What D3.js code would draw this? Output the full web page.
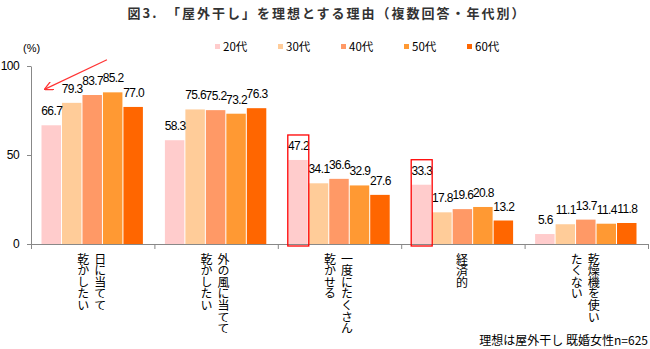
<!DOCTYPE html>
<html>
<head>
<meta charset="utf-8">
<script src="https://cdn.jsdelivr.net/npm/d3@7"></script>
<style>
  body { margin: 0; background: #fff; }
  svg { display: block; }
  .jp { font-family: "Noto Sans CJK JP", sans-serif; }
  .num { font-family: "Liberation Sans", Arial, sans-serif; }
</style>
</head>
<body>
<div id="chart"></div>
<script>
// Reasons (each label split into its vertical columns, right column first)
const categories = ['日に当てて乾かしたい', '外の風に当てて乾かしたい', '一度にたくさん乾かせる', '経済的', '乾燥機を使いたくない'];
const categoryLines = [
  ['日に当てて', '乾かしたい'],
  ['外の風に当てて', '乾かしたい'],
  ['一度にたくさん', '乾かせる'],
  ['経済的'],
  ['乾燥機を使い', 'たくない']
];
const ageGroups = ['20代', '30代', '40代', '50代', '60代'];
const colors = ['#FFCCCC', '#FFCC99', '#FF9966', '#FF9933', '#FF6600'];

// Percentages per age group, in category order
const values20 = [66.7, 58.3, 47.2, 33.3, 5.6];
const values30 = [79.3, 75.6, 34.1, 17.8, 11.1];
const values40 = [83.7, 75.2, 36.6, 19.6, 13.7];
const values50 = [85.2, 73.2, 32.9, 20.8, 11.4];
const values60 = [77.0, 76.3, 27.6, 13.2, 11.8];
const seriesValues = [values20, values30, values40, values50, values60];

const yTicks = [0, 50, 100];

// Bars outlined in red: [category index, age group index]
const highlights = [[2, 0], [3, 0]];

const width = 650;
const height = 349;

const svg = d3.select('#chart')
  .append('svg')
    .attr('width', width)
    .attr('height', height);

// Title
svg.append('text')
  .attr('class', 'jp')
  .attr('x', 327)
  .attr('y', 18)
  .attr('text-anchor', 'middle')
  .attr('font-size', 13)
  .attr('font-weight', 700)
  .attr('letter-spacing', 2)
  .attr('fill', '#333')
  .text('図3.　「屋外干し」を理想とする理由（複数回答・年代別）');

// Scales
const x0 = d3.scaleBand()
  .domain(categories)
  .range([31, 648]);

const x1 = d3.scaleBand()
  .domain(ageGroups)
  .range([10.5, x0.bandwidth() - 10.5]);

const y = d3.scaleLinear()
  .domain([0, 100])
  .range([244, 66]);

// Y axis
const yAxis = svg.append('g')
  .attr('transform', 'translate(31,0)')
  .call(d3.axisLeft(y).tickValues(yTicks).tickSize(4).tickSizeOuter(0).tickPadding(8));
yAxis.select('.domain').attr('stroke', '#888');
yAxis.selectAll('.tick line').attr('stroke', '#888');
yAxis.selectAll('.tick text')
  .attr('class', 'num')
  .attr('font-size', 12)
  .attr('letter-spacing', -0.6)
  .attr('fill', '#000');

svg.append('text')
  .attr('class', 'num')
  .attr('x', 23)
  .attr('y', 52)
  .attr('font-size', 11)
  .attr('fill', '#000')
  .text('(%)');

// Bars
const groups = svg.append('g')
  .selectAll('g')
  .data(categories)
  .join('g')
    .attr('transform', d => 'translate(' + x0(d) + ',0)');

groups.selectAll('rect')
  .data((d, i) => ageGroups.map((a, j) => ({ age: a, color: colors[j], value: seriesValues[j][i] })))
  .join('rect')
    .attr('x', d => x1(d.age))
    .attr('y', d => y(d.value))
    .attr('width', x1.bandwidth() - 1)
    .attr('height', d => y(0) - y(d.value))
    .attr('fill', d => d.color);

// Value labels
groups.selectAll('text')
  .data((d, i) => ageGroups.map((a, j) => ({ age: a, value: seriesValues[j][i] })))
  .join('text')
    .attr('class', 'num')
    .attr('x', d => x1(d.age) + x1.bandwidth() / 2)
    .attr('y', d => y(d.value) - 10)
    .attr('text-anchor', 'middle')
    .attr('font-size', 12)
    .attr('letter-spacing', -0.6)
    .attr('fill', '#000')
    .text(d => d.value.toFixed(1));

// X axis with ticks between categories
const xEdges = d3.scaleLinear()
  .domain([0, categories.length])
  .range(x0.range());
const xAxis = svg.append('g')
  .attr('transform', 'translate(0,' + y(0) + ')')
  .call(d3.axisBottom(xEdges).ticks(categories.length).tickFormat('').tickSize(5).tickSizeOuter(0));
xAxis.select('.domain').attr('stroke', '#888');
xAxis.selectAll('.tick line').attr('stroke', '#888');

// Vertical category labels
categories.forEach((c, i) => {
  const lines = categoryLines[i];
  const cx = x0(c) + x0.bandwidth() / 2 - 1;
  lines.forEach((line, k) => {
    svg.append('text')
      .attr('class', 'jp')
      .attr('x', cx + ((lines.length - 1) / 2 - k) * 17)
      .attr('y', 253)
      .attr('font-size', 12)
      .attr('letter-spacing', -0.4)
      .style('writing-mode', 'vertical-rl')
      .style('text-orientation', 'upright')
      .attr('fill', '#000')
      .text(line);
  });
});

// Red outlines around highlighted bars
highlights.forEach(([ci, ai]) => {
  const bx = x0(categories[ci]) + x1(ageGroups[ai]);
  svg.append('rect')
    .attr('x', bx - 0.5)
    .attr('y', y(seriesValues[ai][ci]) - 25)
    .attr('width', x1.bandwidth() + 0.5)
    .attr('height', y(0) - y(seriesValues[ai][ci]) + 27)
    .attr('fill', 'none')
    .attr('stroke', '#FF0000')
    .attr('stroke-width', 1.3);
});

// Arrow pointing at the first group
svg.append('defs').append('marker')
  .attr('id', 'arrowhead')
  .attr('viewBox', '0 0 10 10')
  .attr('refX', 9)
  .attr('refY', 5)
  .attr('markerWidth', 9)
  .attr('markerHeight', 9)
  .attr('markerUnits', 'userSpaceOnUse')
  .attr('orient', 'auto')
  .append('path')
    .attr('d', 'M0,0 L10,5 L0,10')
    .attr('fill', 'none')
    .attr('stroke', '#FF3333')
    .attr('stroke-width', 1.4);

svg.append('line')
  .attr('x1', x0(categories[0]) + x1('50代') + 4)
  .attr('y1', y(103.5))
  .attr('x2', x0(categories[0]) + x1('20代') + 3.5)
  .attr('y2', y(87))
  .attr('stroke', '#FF3333')
  .attr('stroke-width', 1.2)
  .attr('marker-end', 'url(#arrowhead)');

// Legend
const legend = svg.append('g')
  .selectAll('g')
  .data(ageGroups)
  .join('g')
    .attr('transform', (d, i) => 'translate(' + (215 + i * 63) + ',44)');

legend.append('rect')
  .attr('width', 5)
  .attr('height', 5)
  .attr('fill', (d, i) => colors[i]);

legend.append('text')
  .attr('class', 'jp')
  .attr('x', 8)
  .attr('y', 6.5)
  .attr('font-size', 11.5)
  .attr('fill', '#000')
  .text(d => d);

// Footnote
svg.append('text')
  .attr('class', 'jp')
  .attr('x', 648)
  .attr('y', 345)
  .attr('text-anchor', 'end')
  .attr('font-size', 12)
  .attr('fill', '#000')
  .text('理想は屋外干し 既婚女性n=625');
</script>
</body>
</html>
